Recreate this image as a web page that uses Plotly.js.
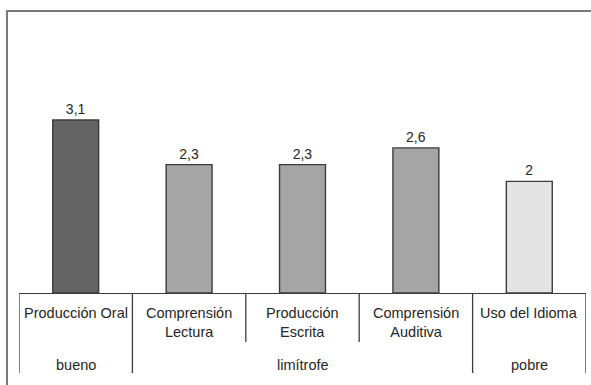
<!DOCTYPE html>
<html>
<head>
<meta charset="utf-8">
<script src="https://cdn.plot.ly/plotly-3.0.1.min.js"></script>
<style>
  html, body { margin: 0; padding: 0; background: #fff; }
  #chart { width: 591px; height: 385px; }
</style>
</head>
<body>
<div id="chart"></div>
<script>
// Skill areas and their mean scores
const categories = ["Producción Oral", "Comprensión<br>Lectura", "Producción<br>Escrita", "Comprensión<br>Auditiva", "Uso del Idioma"];
const scores = [3.1, 2.3, 2.3, 2.6, 2];
const barColors = ["#646464", "#a5a5a5", "#a5a5a5", "#a5a5a5", "#e4e4e4"];

// Performance bands: label, first and last category index covered
const bandLabels = ["bueno", "limítrofe", "pobre"];
const bandStart = [0, 1, 4];
const bandEnd = [0, 3, 4];

const xIdx = categories.map((_, i) => i);
const valueText = scores.map(v => String(v).replace(".", ","));

const W = 591, H = 385;
const margin = { l: 19, r: 5, t: 14, b: 92 };
const plotH = H - margin.t - margin.b;
const plotW = W - margin.l - margin.r;
// convert a pixel offset below the axis into paper units
const belowAxis = px => -px / plotH;

const fontFamily = "Liberation Sans, Arial, sans-serif";
const textColor = "#262626";
const lineColor = "#3c3c3c";

const trace = {
  type: "bar",
  x: xIdx,
  y: scores,
  width: 0.405,
  marker: { color: barColors, line: { color: lineColor, width: 1.4 } },
  text: valueText,
  textposition: "outside",
  textfont: { family: fontFamily, size: 14, color: textColor },
  cliponaxis: false,
  hoverinfo: "skip"
};

const shapes = [];
// outer frame (extends past the right and bottom edges)
shapes.push({
  type: "rect", xref: "paper", yref: "paper",
  x0: (7 - margin.l) / plotW, x1: (W + 20 - margin.l) / plotW,
  y0: belowAxis(H + 20 - (H - margin.b)), y1: 1 + 3 / plotH,
  line: { color: "#7a7a7a", width: 2 }, fillcolor: "rgba(0,0,0,0)", layer: "below"
});
// category dividers under the axis; band edges run further down
const groupEdges = new Set();
bandStart.forEach(s => groupEdges.add(s - 0.5));
bandEnd.forEach(e => groupEdges.add(e + 0.5));
for (let i = 0; i <= categories.length; i++) {
  const xe = i - 0.5;
  const long = groupEdges.has(xe);
  shapes.push({
    type: "line", xref: "x", yref: "paper",
    x0: xe, x1: xe, y0: 0, y1: belowAxis(long ? 80 : 49),
    line: { color: lineColor, width: 1.3 }
  });
}

const annotations = [];
categories.forEach((c, i) => {
  annotations.push({
    xref: "x", yref: "paper", x: i, y: belowAxis(10),
    text: c, showarrow: false, xanchor: "center", yanchor: "top",
    font: { family: fontFamily, size: 14.5, color: textColor },
    align: "center"
  });
});
bandLabels.forEach((b, k) => {
  annotations.push({
    xref: "x", yref: "paper", x: (bandStart[k] + bandEnd[k]) / 2, y: belowAxis(72),
    text: b, showarrow: false, xanchor: "center", yanchor: "middle",
    font: { family: fontFamily, size: 14.5, color: textColor }
  });
});

const layout = {
  width: W, height: H,
  margin: margin,
  paper_bgcolor: "#ffffff",
  plot_bgcolor: "#ffffff",
  showlegend: false,
  xaxis: {
    range: [-0.5, categories.length - 0.5],
    showticklabels: false, ticks: "", showgrid: false, zeroline: false,
    showline: true, linecolor: lineColor, linewidth: 1.3, fixedrange: true
  },
  yaxis: {
    range: [0, 5],
    visible: false, showgrid: false, zeroline: false, fixedrange: true
  },
  shapes: shapes,
  annotations: annotations
};

Plotly.newPlot("chart", [trace], layout, { staticPlot: true, displayModeBar: false });
</script>
</body>
</html>
